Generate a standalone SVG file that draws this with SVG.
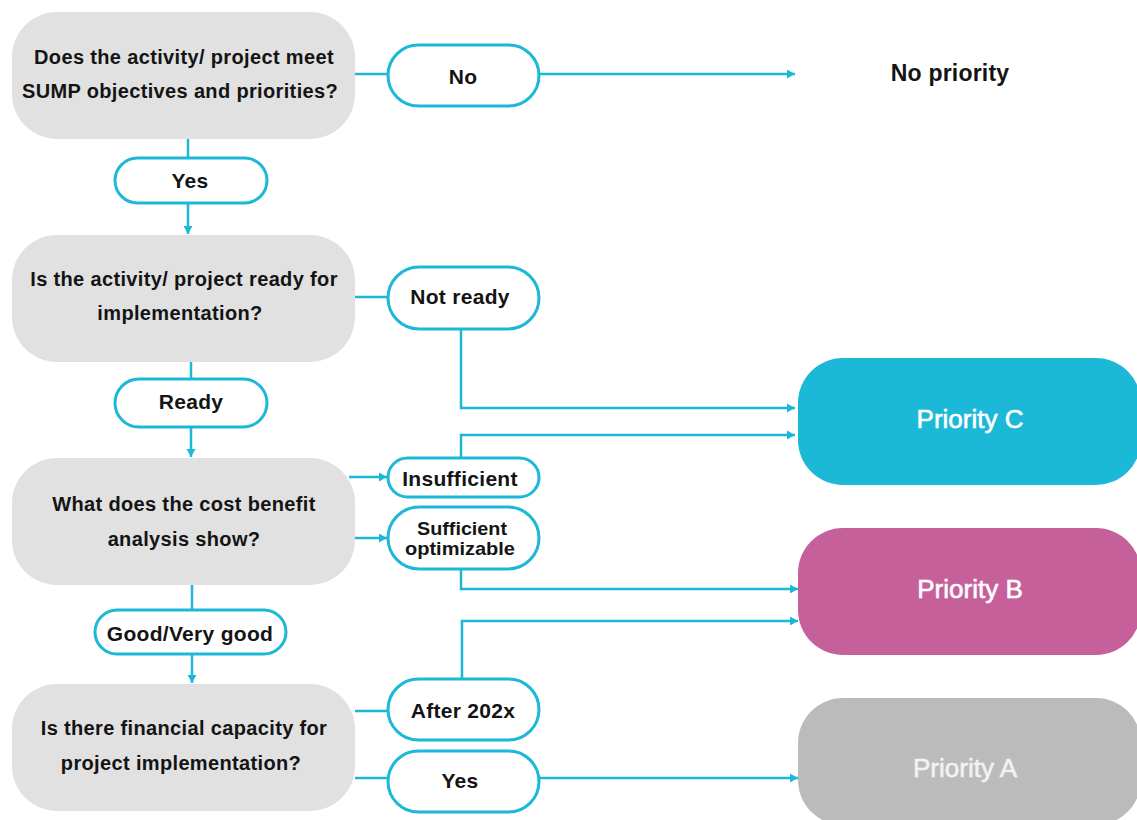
<svg xmlns="http://www.w3.org/2000/svg" width="1137" height="820" viewBox="0 0 1137 820">
<style>
.q{fill:#e1e1e1}
.pill{fill:#fff;stroke:#1cb8d8;stroke-width:3}
.qt{font-family:"Liberation Sans",Arial,sans-serif;font-weight:bold;font-size:20px;letter-spacing:0.35px;fill:#141414;text-anchor:middle}
.pt{font-family:"Liberation Sans",Arial,sans-serif;font-weight:bold;font-size:21px;letter-spacing:0.3px;fill:#141414;text-anchor:middle}
.st{font-family:"Liberation Sans",Arial,sans-serif;font-weight:bold;font-size:19px;fill:#141414;text-anchor:middle}
.np{font-family:"Liberation Sans",Arial,sans-serif;font-weight:bold;font-size:23px;letter-spacing:0.2px;fill:#141414;text-anchor:middle}
.rt{font-family:"Liberation Sans",Arial,sans-serif;font-size:26px;text-anchor:middle;stroke-width:0.6px}
.c{fill:none;stroke:#1cb8d8;stroke-width:2.5}
</style>
<defs>
<marker id="ah" markerUnits="userSpaceOnUse" markerWidth="9" markerHeight="10" refX="8" refY="5" orient="auto">
<path d="M0,0.5 L8,5 L0,9.5 z" fill="#1cb8d8"/>
</marker>
</defs>
<rect width="1137" height="820" fill="#fff"/>
<g id="connectors">
<path class="c" d="M355,74 H388"/>
<path class="c" d="M539,74 H795" marker-end="url(#ah)"/>
<path class="c" d="M188,139 V158"/>
<path class="c" d="M188,203 V234" marker-end="url(#ah)"/>
<path class="c" d="M355,297 H388"/>
<path class="c" d="M461,329 V408 H795" marker-end="url(#ah)"/>
<path class="c" d="M191,362 V379"/>
<path class="c" d="M191,427 V457" marker-end="url(#ah)"/>
<path class="c" d="M349,477 H387" marker-end="url(#ah)"/>
<path class="c" d="M461,458 V435 H795" marker-end="url(#ah)"/>
<path class="c" d="M355,538 H387" marker-end="url(#ah)"/>
<path class="c" d="M461,569 V589 H798" marker-end="url(#ah)"/>
<path class="c" d="M192,585 V610"/>
<path class="c" d="M192,654 V683" marker-end="url(#ah)"/>
<path class="c" d="M355,711 H388"/>
<path class="c" d="M462,679 V621 H798" marker-end="url(#ah)"/>
<path class="c" d="M355,778 H388"/>
<path class="c" d="M539,778 H798" marker-end="url(#ah)"/>
</g>
<g id="q1"><rect class="q" x="12" y="12" width="343" height="127" rx="45"/>
<text class="qt" x="184" y="64">Does the activity/ project meet</text>
<text class="qt" x="180" y="98">SUMP objectives and priorities?</text></g>
<g id="q2"><rect class="q" x="12" y="235" width="343" height="127" rx="45"/>
<text class="qt" x="184" y="286">Is the activity/ project ready for</text>
<text class="qt" x="180" y="320">implementation?</text></g>
<g id="q3"><rect class="q" x="12" y="458" width="343" height="127" rx="45"/>
<text class="qt" x="184" y="511">What does the cost benefit</text>
<text class="qt" x="184" y="546">analysis show?</text></g>
<g id="q4"><rect class="q" x="12" y="684" width="343" height="127" rx="45"/>
<text class="qt" x="184" y="735">Is there financial capacity for</text>
<text class="qt" x="181" y="770">project implementation?</text></g>
<g id="p-no"><rect class="pill" x="388" y="45" width="151" height="61" rx="30.5"/><text class="pt" x="463" y="84">No</text></g>
<g id="p-yes1"><rect class="pill" x="115" y="158" width="152" height="45" rx="22.5"/><text class="pt" x="190" y="188">Yes</text></g>
<g id="p-notready"><rect class="pill" x="388" y="267" width="151" height="62" rx="31"/><text class="pt" x="460" y="304">Not ready</text></g>
<g id="p-ready"><rect class="pill" x="115" y="379" width="152" height="48" rx="24"/><text class="pt" x="191" y="409">Ready</text></g>
<g id="p-insufficient"><rect class="pill" x="388" y="458" width="151" height="39" rx="19.5"/><text class="pt" x="460" y="486">Insufficient</text></g>
<g id="p-sufficient"><rect class="pill" x="388" y="507" width="151" height="62" rx="31"/>
<text class="st" x="462" y="535" textLength="90" lengthAdjust="spacingAndGlyphs">Sufficient</text>
<text class="st" x="460" y="555" textLength="110" lengthAdjust="spacingAndGlyphs">optimizable</text></g>
<g id="p-good"><rect class="pill" x="95" y="610" width="191" height="44" rx="22"/><text class="pt" x="190" y="641">Good/Very good</text></g>
<g id="p-after"><rect class="pill" x="388" y="679" width="151" height="61" rx="30.5"/><text class="pt" x="463" y="718">After 202x</text></g>
<g id="p-yes2"><rect class="pill" x="388" y="751" width="151" height="61" rx="30.5"/><text class="pt" x="460" y="788">Yes</text></g>
<g id="nopriority"><text class="np" x="950" y="81">No priority</text></g>
<g id="prio-c"><rect x="798" y="358" width="343" height="127" rx="45" fill="#1cb8d8"/><text class="rt" x="970" y="428" fill="#fff" stroke="#fff">Priority C</text></g>
<g id="prio-b"><rect x="798" y="528" width="343" height="127" rx="45" fill="#c6609b"/><text class="rt" x="970" y="598" fill="#fff" stroke="#fff">Priority B</text></g>
<g id="prio-a"><rect x="798" y="698" width="343" height="127" rx="45" fill="#bbbbbb"/><text class="rt" x="965" y="777" fill="#f2f2f2" stroke="#f2f2f2">Priority A</text></g>
</svg>
